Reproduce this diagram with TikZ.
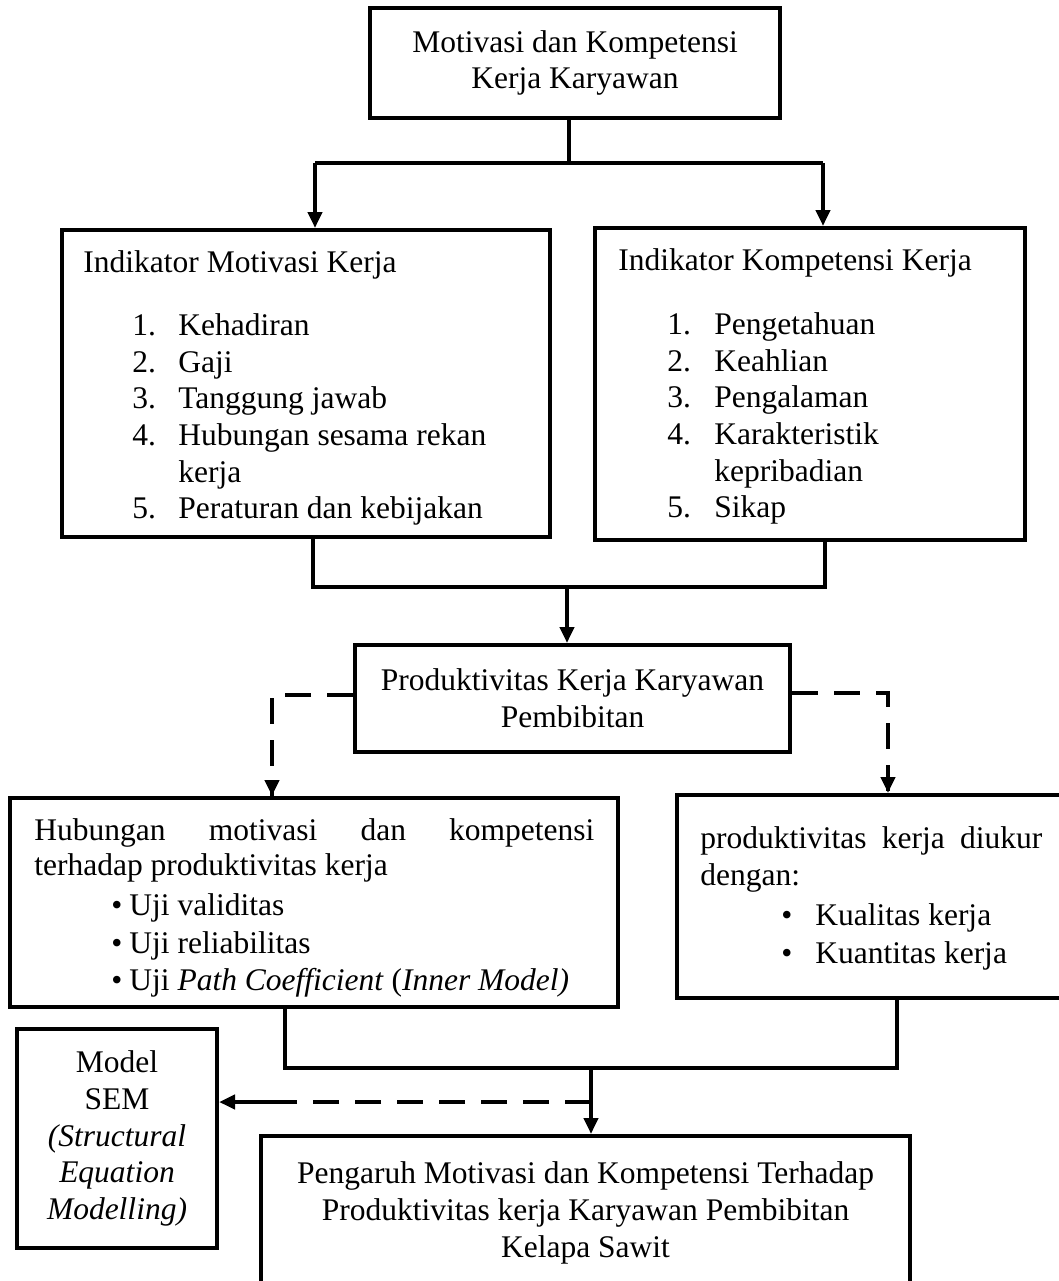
\documentclass[tikz,border=0pt]{standalone}
\usepackage{fontspec}
\setmainfont{Liberation Serif}
\usetikzlibrary{arrows.meta}

\newcommand{\diagfont}{\fontsize{15.75pt}{18.3pt}\selectfont}

\begin{document}
\begin{tikzpicture}[x=0.5pt,y=-0.5pt,
    box/.style={draw,line width=2pt,rectangle,inner sep=0pt,font=\diagfont,align=center},
    conn/.style={line width=2pt},
    arr/.style={line width=2pt,-{Triangle[length=8pt,width=7pt]}},
    dashln/.style={line width=2.2pt,dash pattern=on 13pt off 8pt},
    txt/.style={anchor=base west,inner sep=0pt,font=\diagfont}]
  \useasboundingbox (0,0) rectangle (1059,1281);

  % === boxes ===
  \node[box,minimum width=205pt,minimum height=55pt] (motkom) at (575,63)
    {Motivasi dan Kompetensi\\Kerja Karyawan};
  \node[box,minimum width=244pt,minimum height=153.5pt] (motiv) at (306,383.5) {};
  \node[box,minimum width=215pt,minimum height=156pt] (kompet) at (810,384) {};
  \node[box,minimum width=217.5pt,minimum height=53.5pt] (produk) at (572.5,698.5)
    {Produktivitas Kerja Karyawan\\Pembibitan};
  \node[box,minimum width=304pt,minimum height=104.5pt] (hubung) at (314,902.5) {};
  \node[box,minimum width=192pt,minimum height=101.5pt] (ukur) at (869,896.5) {};
  \node[box,minimum width=100pt,minimum height=109.5pt] (sem) at (117,1138.5)
    {Model\\SEM\\\textit{(Structural}\\\textit{Equation}\\\textit{Modelling)}};
  \node[box,minimum width=324.5pt,minimum height=77pt] (pengaruh) at (585.5,1213)
    {Pengaruh Motivasi dan Kompetensi Terhadap\\Produktivitas kerja Karyawan Pembibitan\\Kelapa Sawit};

  % === indikator motivasi ===
  \node[txt] (motivtitle) at (83,272) {Indikator Motivasi Kerja};
  \foreach \n/\yy in {1/335,2/372,3/408,4/445,5/518}
    \node[txt] (motivnum\n) at (132,\yy) {\n.};
  \foreach \t/\yy [count=\i] in {Kehadiran/335,Gaji/372,Tanggung jawab/408,
      Hubungan sesama rekan/445,kerja/482,Peraturan dan kebijakan/518}
    \node[txt] (motivitem\i) at (178,\yy) {\t};

  % === indikator kompetensi ===
  \node[txt] (kompettitle) at (618,270) {Indikator Kompetensi Kerja};
  \foreach \n/\yy in {1/334,2/371,3/407,4/444,5/517}
    \node[txt] (kompetnum\n) at (667,\yy) {\n.};
  \foreach \t/\yy [count=\i] in {Pengetahuan/334,Keahlian/371,Pengalaman/407,
      Karakteristik/444,kepribadian/481,Sikap/517}
    \node[txt] (kompetitem\i) at (714,\yy) {\t};

  % === hubungan (uji) ===
  \node[txt] (hubline1) at (34,840) {\makebox[280pt][s]{Hubungan motivasi dan kompetensi}};
  \node[txt] (hubline2) at (34,875) {terhadap produktivitas kerja};
  \node[txt] (uji1) at (111,915) {\textbullet\hspace{3.5pt}Uji validitas};
  \node[txt] (uji2) at (111,953) {\textbullet\hspace{3.5pt}Uji reliabilitas};
  \node[txt] (uji3) at (111,990)
    {\textbullet\hspace{3.5pt}Uji \textit{Path Coefficient} (\textit{Inner Model)}};

  % === ukuran produktivitas ===
  \node[txt] (ukurline1) at (700,848) {\makebox[171pt][s]{produktivitas kerja diukur}};
  \node[txt] (ukurline2) at (700,885) {dengan:};
  \node[txt] (dot1) at (781,925) {\textbullet};
  \node[txt] (dot2) at (781,963) {\textbullet};
  \node[txt] (kual) at (815,925) {Kualitas kerja};
  \node[txt] (kuan) at (815,963) {Kuantitas kerja};

  % === connectors top -> indikator ===
  \coordinate (splitT) at (569,163);
  \coordinate (splitL) at (315,163);
  \coordinate (splitR) at (823,163);
  \draw[conn] (motkom.south -| splitT) -- (splitT);
  \draw[conn] (splitL) -- (splitR);
  \draw[arr] (splitL) -- (motiv.north -| splitL);
  \draw[arr] (splitR) -- (kompet.north -| splitR);

  % === indikator -> produktivitas ===
  \coordinate (joinL) at (313,587);
  \coordinate (joinR) at (825,587);
  \coordinate (joinM) at (567,587);
  \draw[conn] (motiv.south -| joinL) -- (joinL) -- (joinR) -- (kompet.south -| joinR);
  \draw[arr] (joinM) -- (produk.north -| joinM);

  % === dashed branches ===
  \coordinate (dashL) at (272,695);
  \coordinate (dashR) at (888,693);
  \draw[dashln] (produk.west |- dashL) -- (dashL) -- (hubung.north -| dashL);
  \draw[dashln] (produk.east |- dashR) -- (dashR) -- (ukur.north -| dashR);
  \draw[arr] (272,780) -- (hubung.north -| dashL);
  \draw[arr] (888,777) -- (ukur.north -| dashR);

  % === hubungan + ukur -> pengaruh ===
  \coordinate (lowL) at (285,1068);
  \coordinate (lowR) at (897,1068);
  \coordinate (lowM) at (591,1068);
  \draw[conn] (hubung.south -| lowL) -- (lowL) -- (lowR) -- (ukur.south -| lowR);
  \draw[arr] (lowM) -- (pengaruh.north -| lowM);

  % === dashed link to SEM ===
  \coordinate (semA) at (591,1102);
  \coordinate (semB) at (290,1102);
  \draw[dashln] (semA) -- (semB);
  \draw[arr] (semB) -- (sem.east |- semB);
\end{tikzpicture}
\end{document}
